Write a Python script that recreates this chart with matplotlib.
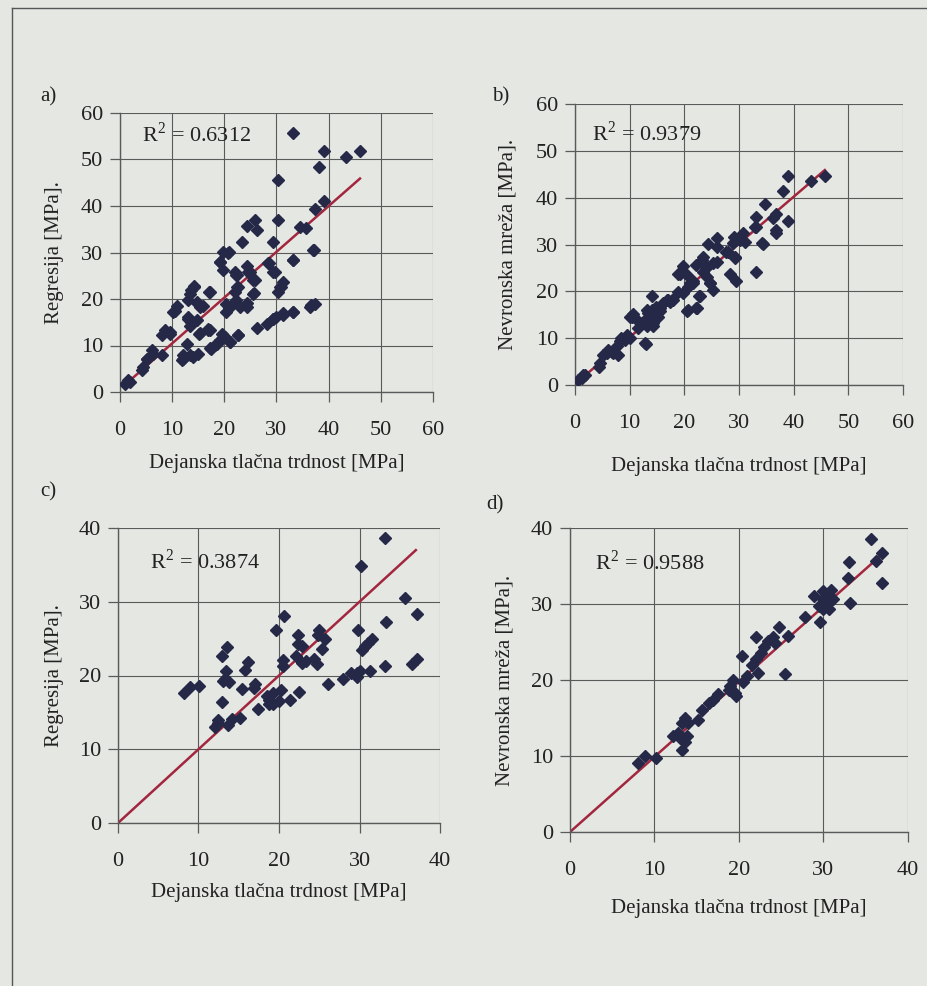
import matplotlib
matplotlib.use("Agg")
import matplotlib.pyplot as plt
from matplotlib.lines import Line2D

# ---------------- data ----------------
a_x = [33.1, 39.2, 43.3, 46.0, 38.1, 30.3, 39.1, 37.3, 34.6, 35.7, 30.3, 24.4, 25.8, 26.2, 23.3, 29.4,
       37.0, 33.1, 19.8, 20.7, 19.1, 19.8, 28.6, 29.4, 24.3, 24.6, 22.0, 22.3, 25.5, 31.3, 30.8, 30.3,
       22.7, 22.0, 25.4, 20.4, 22.3, 23.0, 24.3, 20.4, 17.1, 14.2, 13.7, 13.4, 13.1, 14.7, 15.3, 16.0,
       10.9, 10.5, 13.1, 13.7, 14.7, 13.4, 15.2, 16.9, 17.2, 8.6, 9.6, 8.0, 19.5, 20.1, 22.7, 19.1,
       18.5, 17.5, 21.1, 12.8, 26.2, 28.1, 29.4, 30.0, 31.3, 33.2, 36.4, 37.3, 6.1, 6.4, 5.1, 8.0,
       4.5, 4.2, 1.6, 1.0, 1.9, 12.1, 11.8, 13.4, 15.0, 14.0,
       20.8, 19.2, 22.4, 24.9, 25.9, 22.4, 22.0, 24.3, 20.8, 25.6, 30.7, 29.7, 28.4, 33.2, 37.1,
       36.7, 33.2, 31.3, 29.4, 22.7, 21.1, 18.2, 17.3, 12.1, 16.9, 15.3, 14.1, 13.1, 14.7, 17.3,
       10.2, 9.6, 5.1]
a_y = [55.7, 51.8, 50.5, 51.8, 48.4, 45.5, 41.1, 39.4, 35.5, 35.3, 36.9, 35.8, 36.9, 34.8, 32.3, 32.3,
       30.5, 28.3, 30.1, 30.0, 28.0, 26.2, 27.7, 25.8, 27.2, 25.8, 25.8, 25.1, 24.0, 23.7, 22.6, 21.5,
       22.6, 21.5, 21.0, 19.0, 19.7, 18.3, 18.3, 17.2, 21.4, 22.9, 21.9, 21.1, 19.7, 19.4, 18.3, 18.6,
       18.4, 17.4, 15.8, 15.1, 15.4, 14.3, 12.5, 13.6, 13.3, 13.3, 12.5, 12.2, 12.5, 11.8, 12.2, 11.1,
       10.4, 9.3, 10.8, 10.4, 13.8, 14.7, 15.6, 16.1, 16.5, 17.2, 18.3, 19.0, 9.0, 8.2, 7.2, 7.9,
       5.4, 4.8, 2.5, 1.8, 2.2, 7.9, 6.8, 7.9, 8.2, 7.5,
       30.2, 28.0, 25.2, 25.9, 24.1, 22.6, 19.4, 19.1, 18.0, 21.2, 22.6, 25.9, 27.7, 28.4, 30.5,
       18.7, 17.3, 16.9, 15.8, 12.3, 10.8, 10.1, 9.4, 7.2, 13.3, 12.6, 22.6, 16.2, 19.1, 21.6,
       17.3, 13.0, 7.2]

b_x = [45.7, 43.1, 38.9, 38.0, 34.7, 36.8, 36.2, 39.0, 33.1, 33.2, 36.8, 36.8, 30.8, 30.1, 29.5, 31.1,
       28.9, 34.3, 25.9, 24.4, 25.9, 28.0, 29.2, 23.4, 23.1, 22.2, 24.1, 25.3, 25.9, 19.8, 18.9, 20.4,
       28.3, 29.5, 33.2, 23.4, 24.1, 24.7, 25.3, 21.6, 20.7, 18.9, 19.8, 22.8, 17.1, 16.1, 14.0, 14.9,
       14.0, 13.4, 13.1, 12.2, 11.6, 10.7, 10.4, 20.4, 22.1, 13.1, 14.3, 15.2, 13.0, 10.1, 9.1, 8.2,
       7.6, 6.7, 5.8, 5.2, 7.9, 4.6, 4.3, 1.8, 1.2, 0.6, 17.4, 15.5, 11.3, 18.0,
       10.1, 13.1, 13.7, 12.5, 14.3, 14.9, 15.5, 16.8, 17.7, 19.2, 21.0, 21.6, 22.6, 23.2, 24.7,
       29.0, 30.2, 27.7, 29.3, 34.2, 32.9, 12.8, 9.5, 8.5, 6.1, 7.0, 1.5, 20.7, 22.3]
b_y = [44.6, 43.6, 44.6, 41.5, 38.6, 36.5, 35.6, 35.1, 35.8, 33.7, 33.1, 32.4, 32.4, 31.7, 31.0, 30.6,
       30.4, 30.1, 31.3, 30.2, 29.5, 28.5, 27.2, 27.4, 26.3, 25.6, 25.3, 26.0, 26.3, 25.4, 23.7, 23.5,
       23.8, 22.1, 24.2, 24.2, 23.1, 21.7, 20.3, 22.1, 21.0, 19.9, 19.6, 19.0, 18.1, 17.6, 18.9, 16.7,
       16.0, 15.3, 14.2, 13.2, 12.1, 15.2, 14.6, 15.9, 16.4, 12.5, 13.2, 14.6, 8.8, 10.0, 9.6, 9.5,
       8.3, 7.1, 6.8, 6.4, 6.4, 4.6, 3.9, 2.1, 1.6, 1.1, 17.8, 15.7, 13.9, 18.1,
       14.6, 16.0, 13.9, 13.2, 12.5, 14.6, 16.4, 18.1, 18.1, 23.8, 21.8, 21.7, 18.9, 26.7, 21.7,
       31.7, 31.0, 28.5, 27.4, 30.3, 33.8, 8.9, 10.7, 10.0, 7.5, 6.8, 2.1, 16.0, 16.4]

c_x = [33.2, 30.2, 35.7, 37.1, 33.3, 29.8, 20.6, 19.6, 22.3, 25.0, 24.9, 25.7, 22.4, 22.9, 25.4, 22.1,
       22.8, 23.4, 24.4, 24.7, 31.5, 31.1, 30.7, 30.3, 20.5, 20.5, 13.5, 12.9, 13.4, 13.3, 13.8, 13.0,
       16.1, 15.8, 15.4, 17.0, 16.9, 8.2, 9.0, 10.1, 12.9, 17.4, 18.8, 19.2, 20.2, 19.3, 18.7, 20.0,
       21.4, 22.5, 18.5, 26.1, 28.0, 28.9, 29.7, 29.7, 30.1, 31.3, 33.2, 36.5, 37.1, 12.4, 12.0, 12.4,
       13.7, 14.2, 15.1]
c_y = [38.6, 34.8, 30.5, 28.4, 27.2, 26.2, 28.1, 26.2, 25.5, 26.2, 25.5, 24.9, 24.3, 24.0, 23.6, 22.6,
       21.7, 21.9, 22.3, 21.6, 24.9, 24.4, 24.0, 23.5, 22.1, 21.3, 23.8, 22.7, 20.6, 19.5, 19.1, 19.2,
       21.8, 20.8, 18.2, 18.8, 18.3, 17.6, 18.5, 18.6, 16.4, 15.4, 16.7, 17.6, 18.1, 16.1, 16.1, 16.5,
       16.7, 17.7, 17.2, 18.9, 19.5, 20.4, 20.3, 19.8, 20.6, 20.6, 21.3, 21.6, 22.3, 14.0, 13.0, 13.6,
       13.3, 14.1, 14.3]

d_x = [35.6, 36.9, 36.2, 33.0, 32.9, 36.9, 33.1, 30.9, 29.9, 28.9, 30.5, 29.9, 31.1, 30.3, 29.9, 29.5,
       30.7, 29.6, 27.8, 25.8, 24.7, 24.0, 24.3, 23.4, 22.0, 23.0, 22.6, 22.0, 21.5, 20.3, 22.2, 20.9,
       25.4, 20.5, 19.3, 18.9, 18.8, 19.5, 19.7, 17.5, 16.9, 16.5, 15.6, 15.2, 13.6, 13.2, 12.8, 12.2,
       13.8, 13.6, 13.2, 13.0, 8.1, 8.9, 10.2, 14.0]
d_y = [38.6, 36.7, 35.6, 35.5, 33.4, 32.7, 30.1, 31.9, 31.7, 31.1, 31.0, 30.6, 30.6, 29.9, 29.3, 29.7,
       29.3, 27.6, 28.3, 25.8, 27.0, 25.7, 24.9, 25.1, 25.7, 24.4, 23.6, 22.7, 22.0, 23.2, 20.9, 20.5,
       20.8, 19.8, 20.0, 19.2, 18.7, 18.3, 17.9, 18.1, 17.4, 17.0, 16.1, 14.8, 15.0, 14.3, 13.0, 12.6,
       12.6, 11.9, 10.8, 12.4, 9.1, 10.0, 9.8, 14.3]

# trend line endpoints (x0, x1) and (y0, y1)
a_line = ([1.0, 46.0], [1.6, 45.9])
b_line = ([0.5, 45.7], [0.7, 45.9])
c_line = ([0.0, 37.0], [0.0, 37.0])
d_line = ([0.0, 37.0], [0.0, 36.6])

r2_texts = ["R$^2$ = 0.6312", "R$^2$ = 0.9379", "R$^2$ = 0.3874", "R$^2$ = 0.9588"]
ylabels = ["Regresija [MPa].", "Nevronska mreža [MPa].", "Regresija [MPa].", "Nevronska mreža [MPa]."]
xlabel = "Dejanska tlačna trdnost [MPa]"
panel_labels = ["a)", "b)", "c)", "d)"]
ticks60 = [0, 10, 20, 30, 40, 50, 60]
ticks40 = [0, 10, 20, 30, 40]

# ---------------- style ----------------
BG = "#e4e7e2"
INK = "#222222"
MARK = "#262848"
RED = "#a3263f"
GRID = "#5a5a5a"
plt.rcParams["font.family"] = ["Liberation Serif", "DejaVu Serif"]
plt.rcParams["mathtext.fontset"] = "custom"
plt.rcParams["mathtext.rm"] = "Liberation Serif"

fig = plt.figure(figsize=(9.28, 9.86), dpi=100, facecolor=BG)
W, H = 928, 986

def ax_px(l, r, t, b):
    return fig.add_axes([l / W, 1 - b / H, (r - l) / W, (b - t) / H])

panels = [
    dict(box=(120, 433, 113, 392), x=a_x, y=a_y, line=a_line, ticks=ticks60, lim=60,
         r2=(4.2, 55.3), xlab_y=463, ylab_x=55),
    dict(box=(575, 903, 104, 385), x=b_x, y=b_y, line=b_line, ticks=ticks60, lim=60,
         r2=(3.1, 53.8), xlab_y=467, ylab_x=508),
    dict(box=(118, 440, 528, 823), x=c_x, y=c_y, line=c_line, ticks=ticks40, lim=40,
         r2=(4.0, 35.4), xlab_y=892, ylab_x=55),
    dict(box=(570, 908, 528, 832), x=d_x, y=d_y, line=d_line, ticks=ticks40, lim=40,
         r2=(3.0, 35.4), xlab_y=908, ylab_x=505),
]

for i, p in enumerate(panels):
    l, r, t, b = p["box"]
    ax = ax_px(l, r, t, b)
    ax.set_facecolor("none")
    ax.set_xlim(0, p["lim"])
    ax.set_ylim(0, p["lim"])
    ax.set_xticks(p["ticks"])
    ax.set_yticks(p["ticks"])
    ax.grid(True, color=GRID, lw=0.8)
    ax.set_axisbelow(True)
    for s in ["top", "right"]:
        ax.spines[s].set_visible(False)
    for s in ["left", "bottom"]:
        ax.spines[s].set_color(GRID)
        ax.spines[s].set_linewidth(1.0)
    ax.tick_params(direction="out", length=7, width=0.9, color=GRID,
                   labelsize=16, labelcolor=INK)
    ax.tick_params(axis="x", pad=14)
    ax.tick_params(axis="y", pad=5)
    ax.plot(p["line"][0], p["line"][1], color=RED, lw=1.8, zorder=2)
    ax.plot(p["x"], p["y"], linestyle="none", marker="D", ms=6.3,
            color=MARK, mec=MARK, zorder=3)
    ax.text(p["r2"][0], p["r2"][1], r2_texts[i], fontsize=16, color=INK,
            ha="left", va="center")
    cx = (l + r) / 2
    fig.text(cx / W, 1 - p["xlab_y"] / H, xlabel, fontsize=15, color=INK,
             ha="center", va="center")
    fig.text(p["ylab_x"] / W, 1 - ((t + b) / 2) / H, ylabels[i], fontsize=15,
             color=INK, ha="center", va="center", rotation=90)

# panel letters
for lab, (px, py) in zip(panel_labels, [(40, 97), (492, 97), (40, 492), (486, 505)]):
    fig.text(px / W, 1 - py / H, lab, fontsize=15, color=INK, ha="left", va="center")

# page border lines
fig.add_artist(Line2D([12 / W, 1], [1 - 8 / H, 1 - 8 / H], color="#555555", lw=1.0))
fig.add_artist(Line2D([12 / W, 12 / W], [0, 1 - 8 / H], color="#555555", lw=1.0))

fig.savefig("out.png", dpi=100, facecolor=BG)
